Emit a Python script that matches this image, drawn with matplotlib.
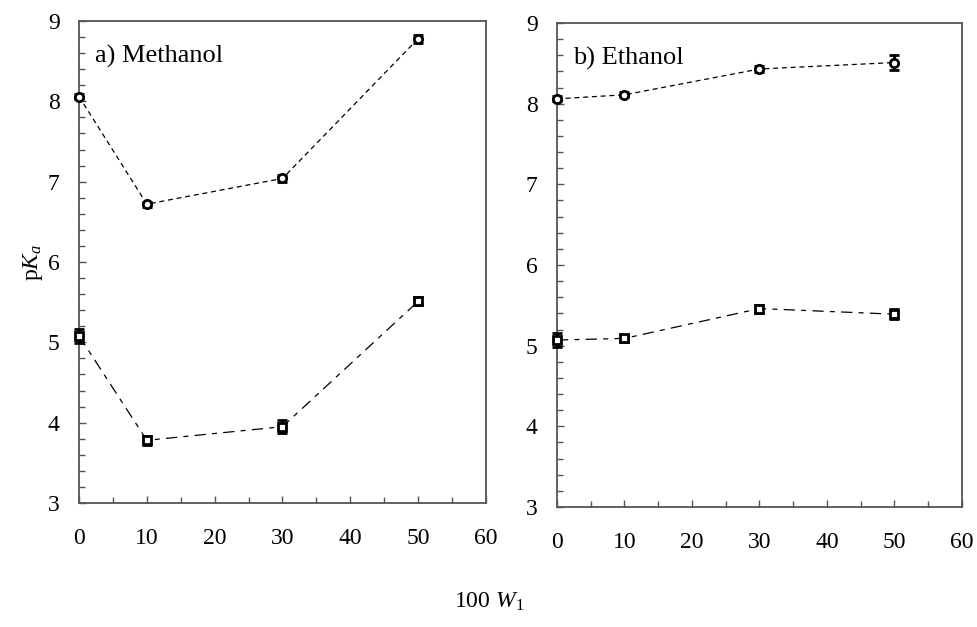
import matplotlib
matplotlib.use("Agg")
import matplotlib.pyplot as plt
from matplotlib.ticker import MultipleLocator

plt.rcParams['font.family'] = ['Liberation Serif', 'DejaVu Serif']
plt.rcParams['mathtext.fontset'] = 'custom'
plt.rcParams['mathtext.rm'] = 'Liberation Serif'
plt.rcParams['mathtext.it'] = 'Liberation Serif:italic'

x = [0, 10, 30, 50]

meoh_pka2 = [8.06, 6.72, 7.04, 8.78]
meoh_pka2_err = [0.03, 0.03, 0.04, 0.05]
meoh_pka1 = [5.08, 3.78, 3.95, 5.51]
meoh_pka1_err = [0.09, 0.06, 0.08, 0.05]

etoh_pka2 = [8.06, 8.11, 8.43, 8.51]
etoh_pka2_err = [0.03, 0.03, 0.04, 0.09]
etoh_pka1 = [5.07, 5.09, 5.46, 5.39]
etoh_pka1_err = [0.09, 0.04, 0.05, 0.06]

panel_titles = ["a) Methanol", "b) Ethanol"]
xticks = [0, 10, 20, 30, 40, 50, 60]
yticks = [3, 4, 5, 6, 7, 8, 9]

fig = plt.figure(figsize=(9.78, 6.27), dpi=100)
ax1 = fig.add_axes([0.0808, 0.1978, 0.4161, 0.7687])
ax2 = fig.add_axes([0.5695, 0.1914, 0.4141, 0.7719])

spine_col = '#555555'
for ax, up, uerr, lo, lerr, title in [
        (ax1, meoh_pka2, meoh_pka2_err, meoh_pka1, meoh_pka1_err, panel_titles[0]),
        (ax2, etoh_pka2, etoh_pka2_err, etoh_pka1, etoh_pka1_err, panel_titles[1])]:
    ax.errorbar(x, up, yerr=uerr, fmt='o', mfc='white', mec='black', mew=2.0,
                ms=6, ecolor='black', elinewidth=2.0, capsize=3.5, capthick=2.0,
                zorder=3, clip_on=False)
    ax.plot(x, up, color='black', lw=0.9, dashes=(4, 3), zorder=2)
    ax.errorbar(x, lo, yerr=lerr, fmt='s', mfc='white', mec='black', mew=2.0,
                ms=6, ecolor='black', elinewidth=2.0, capsize=3.5, capthick=2.0,
                zorder=3, clip_on=False)
    ax.plot(x, lo, color='black', lw=0.9, dashes=(9, 5, 4, 5), zorder=2)

    ax.set_xlim(0, 60)
    ax.set_ylim(3, 9)
    ax.set_xticks(xticks)
    ax.set_yticks(yticks)
    ax.xaxis.set_minor_locator(MultipleLocator(5))
    ax.yaxis.set_minor_locator(MultipleLocator(0.2))
    ax.tick_params(which='both', direction='in', color=spine_col, width=1,
                   top=False, right=False, labelsize=17)
    ax.tick_params(which='major', length=5)
    ax.tick_params(which='minor', length=4)
    ax.tick_params(axis='x', which='major', pad=18)
    ax.tick_params(axis='y', which='major', pad=14)
    for s in ax.spines.values():
        s.set_color(spine_col)
        s.set_linewidth(1.3)
    ax.text(0.04, 0.95, title, transform=ax.transAxes, fontsize=19,
            ha='left', va='top')

ax1.set_ylabel(r'p$K_a$', fontsize=17, labelpad=2)
fig.text(0.5, 0.04, r'100 $W_1$', ha='center', va='center', fontsize=17)

fig.savefig('out.png', dpi=100)
